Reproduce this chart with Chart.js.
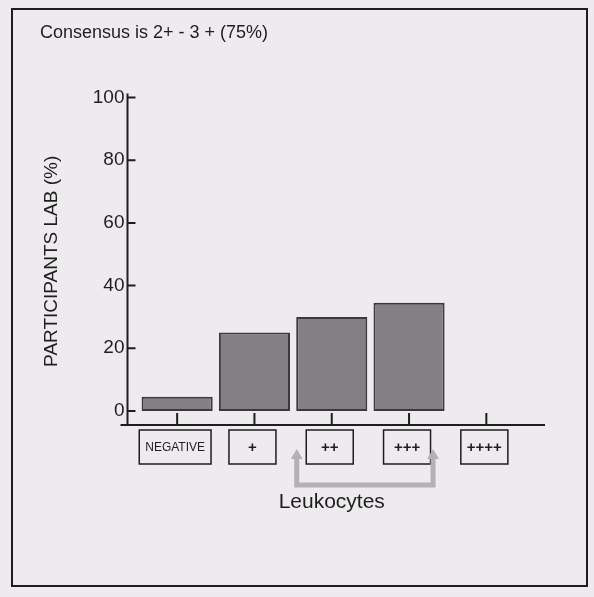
<!DOCTYPE html>
<html>
<head>
<meta charset="utf-8">
<script src="https://cdn.jsdelivr.net/npm/chart.js@4.4.1/dist/chart.umd.min.js"></script>
<style>
  html, body { margin: 0; padding: 0; background: #eeebee; }
  canvas { display: block; }
</style>
</head>
<body>
<canvas id="chart" width="594" height="597"></canvas>
<script>
const categories = ['NEGATIVE', '+', '++', '+++', '++++'];
const participants = [4.5, 25, 30, 34.5, 0];
const yTicks = [0, 20, 40, 60, 80, 100];
const titleText = 'Consensus is 2+ - 3 + (75%)';
const yTitle = 'PARTICIPANTS LAB (%)';
const xTitle = 'Leukocytes';

const FONT = '"Liberation Sans", Arial, sans-serif';
const INK = '#1e1e1e';

// axes, boxed category labels and the grey bracket are drawn by hand
const decorations = {
  id: 'decorations',
  beforeDraw(chart) {
    const ctx = chart.ctx;
    ctx.save();
    ctx.strokeStyle = INK;
    ctx.lineWidth = 2;
    ctx.strokeRect(12, 9, 575, 577);
    ctx.restore();
  },
  afterDraw(chart) {
    const ctx = chart.ctx;
    const x = chart.scales.x;
    const y = chart.scales.y;
    const area = chart.chartArea;
    const axisX = area.left - 11;
    ctx.save();
    ctx.strokeStyle = INK;
    ctx.lineWidth = 2;

    // y axis with inward ticks
    ctx.beginPath();
    ctx.moveTo(axisX, y.getPixelForValue(100) - 4);
    ctx.lineTo(axisX, area.bottom);
    yTicks.forEach(v => {
      const py = y.getPixelForValue(v);
      ctx.moveTo(axisX, py);
      ctx.lineTo(axisX + 8, py);
    });
    // x axis with upward ticks
    ctx.moveTo(axisX - 7, area.bottom);
    ctx.lineTo(area.right + 20, area.bottom);
    categories.forEach((c, i) => {
      const px = x.getPixelForValue(i);
      ctx.moveTo(px, area.bottom);
      ctx.lineTo(px, area.bottom - 12);
    });
    ctx.stroke();

    // boxed labels
    ctx.lineWidth = 1.5;
    ctx.fillStyle = INK;
    ctx.textAlign = 'center';
    ctx.textBaseline = 'middle';
    categories.forEach((c, i) => {
      const px = x.getPixelForValue(i);
      const isWord = c.length > 4 && c[0] !== '+';
      ctx.font = isWord ? '12px ' + FONT : 'bold 15px ' + FONT;
      const w = Math.max(47, ctx.measureText(c).width + 12);
      ctx.strokeRect(px - w / 2 - 2, area.bottom + 5, w, 34);
      ctx.fillText(c, px - 2, area.bottom + 23);
    });

    // grey bracket between ++ and +++
    const lx = x.getPixelForValue(2) - 35;
    const rx = x.getPixelForValue(3) + 24;
    const topY = area.bottom + 32;
    const botY = area.bottom + 60;
    ctx.strokeStyle = '#b3b1b3';
    ctx.fillStyle = '#b3b1b3';
    ctx.lineWidth = 5;
    ctx.beginPath();
    ctx.moveTo(lx, topY);
    ctx.lineTo(lx, botY);
    ctx.lineTo(rx, botY);
    ctx.lineTo(rx, topY);
    ctx.stroke();
    [lx, rx].forEach(ax => {
      ctx.beginPath();
      ctx.moveTo(ax - 6, topY + 2);
      ctx.lineTo(ax + 6, topY + 2);
      ctx.lineTo(ax, topY - 8);
      ctx.closePath();
      ctx.fill();
    });
    ctx.restore();
  }
};

new Chart(document.getElementById('chart'), {
  type: 'bar',
  data: {
    labels: categories,
    datasets: [{
      data: participants,
      backgroundColor: '#828082',
      borderColor: '#3a3a3a',
      borderWidth: 2,
      borderSkipped: false,
      categoryPercentage: 1,
      barPercentage: 0.92
    }]
  },
  options: {
    responsive: false,
    devicePixelRatio: 1,
    animation: false,
    layout: { padding: { left: 40, right: 69, top: 0, bottom: 0 } },
    plugins: {
      legend: { display: false },
      tooltip: { enabled: false },
      title: {
        display: true,
        text: titleText,
        align: 'start',
        color: INK,
        font: { family: FONT, size: 18, weight: 'normal' },
        padding: { top: 22, bottom: 54 }
      }
    },
    scales: {
      x: {
        grid: { display: false, drawTicks: false },
        border: { display: false },
        ticks: { display: false },
        title: {
          display: true,
          text: xTitle,
          color: INK,
          font: { family: FONT, size: 21 },
          padding: { top: 0, bottom: 82 }
        },
        afterFit(scale) { scale.height = 172; }
      },
      y: {
        min: -4.5,
        max: 100,
        grid: { display: false, drawTicks: false },
        border: { display: false },
        afterBuildTicks(scale) { scale.ticks = yTicks.map(v => ({ value: v })); },
        ticks: {
          color: INK,
          padding: 14,
          font: { family: FONT, size: 19 }
        },
        title: {
          display: true,
          text: yTitle,
          color: INK,
          font: { family: FONT, size: 19 },
          padding: { top: 0, bottom: 0 }
        },
        afterFit(scale) { scale.width = 98.5; }
      }
    }
  },
  plugins: [decorations]
});
</script>
</body>
</html>
